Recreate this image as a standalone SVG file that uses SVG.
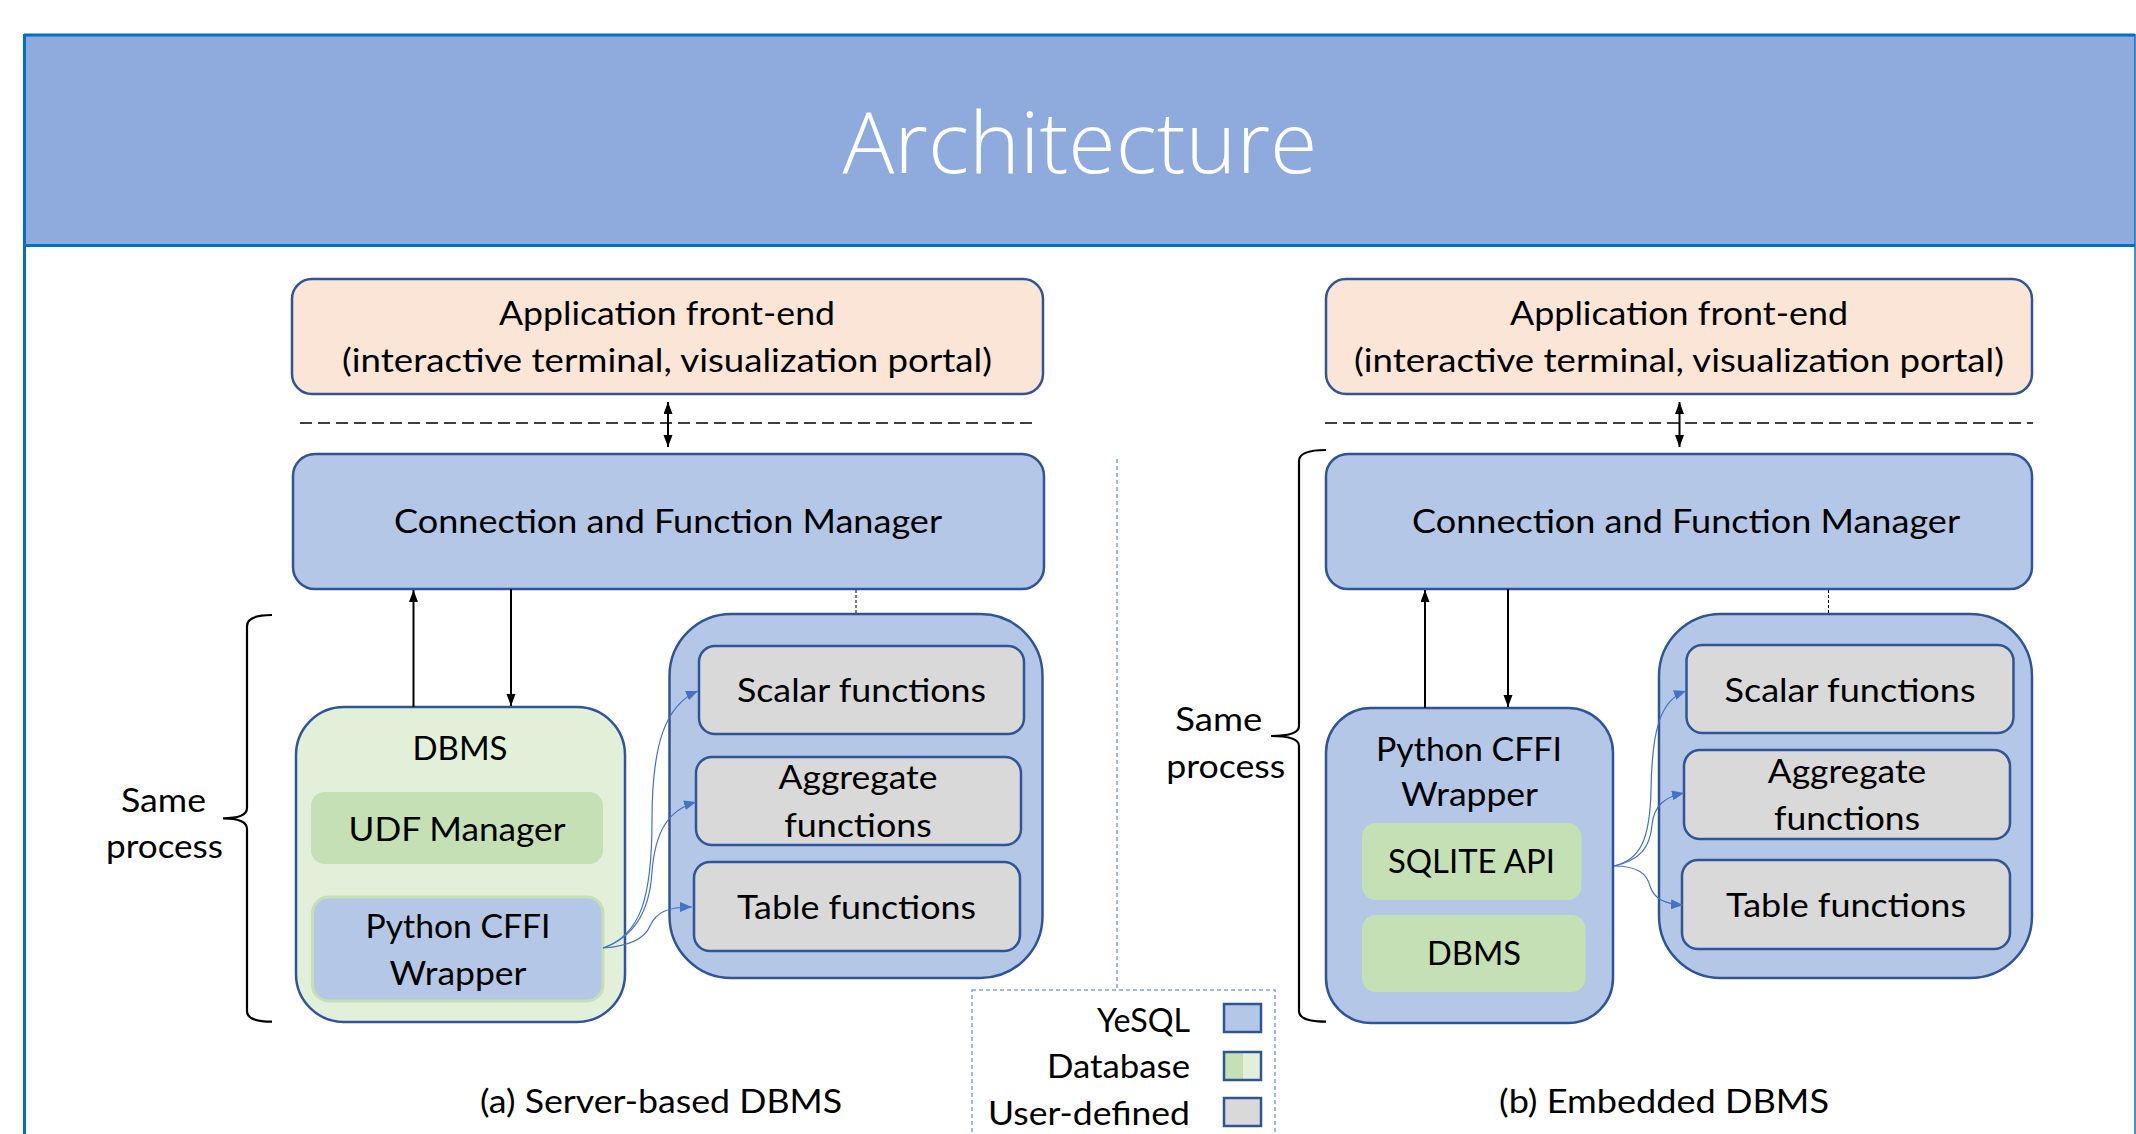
<svg xmlns="http://www.w3.org/2000/svg" width="2136" height="1134" viewBox="0 0 2136 1134">
<defs>
<style>
.t{font-family:Lato,"Liberation Sans",sans-serif;font-size:32.5px;fill:#000;text-anchor:middle}
.tr{font-family:Lato,"Liberation Sans",sans-serif;font-size:32.5px;fill:#000;text-anchor:end}
.title{font-family:"Open Sans","Liberation Sans",sans-serif;font-weight:300;font-size:84px;fill:#fff;text-anchor:middle}
.app{fill:#FBE5D6;stroke:#2F5597;stroke-width:2.5}
.yes{fill:#B4C7E7;stroke:#2F5597;stroke-width:2.5}
.db{fill:#E2F0D9;stroke:#2F5597;stroke-width:2.5}
.dbin{fill:#C5E0B4;stroke:none}
.ud{fill:#D9D9D9;stroke:#2F5597;stroke-width:2.5}
.pyw{fill:#B4C7E7;stroke:#C5E0B4;stroke-width:3}
.ar{fill:none;stroke:#000;stroke-width:2}
.dash{fill:none;stroke:#000;stroke-width:1.6;stroke-dasharray:12 6}
.dot{fill:none;stroke:#000;stroke-width:1;stroke-dasharray:3 2}
.cv{fill:none;stroke:#4472C4;stroke-width:1.2}
.brace{fill:none;stroke:#000;stroke-width:2.2}
.lg{fill:none;stroke:#7FA3DA;stroke-width:1.5;stroke-dasharray:4 3}
</style>
<marker id="ah" markerUnits="userSpaceOnUse" markerWidth="13" markerHeight="10" refX="12" refY="4.5" orient="auto-start-reverse">
<path d="M0,0 L12,4.5 L0,9 z" fill="#000"/>
</marker>
<marker id="bh" markerUnits="userSpaceOnUse" markerWidth="13" markerHeight="11" refX="12" refY="5" orient="auto">
<path d="M0,0 L12,5 L0,10 z" fill="#4472C4"/>
</marker>
</defs>
<rect x="0" y="0" width="2136" height="1134" fill="#fff"/>

<g id="frame">
<rect x="24" y="35" width="2111" height="210" fill="#8FAADC"/>
<line x1="24" y1="35" x2="2135" y2="35" stroke="#0070C0" stroke-width="3"/>
<line x1="24" y1="245.5" x2="2135" y2="245.5" stroke="#0070C0" stroke-width="3"/>
<line x1="24.5" y1="34" x2="24.5" y2="1134" stroke="#0070C0" stroke-width="3"/>
<line x1="2135" y1="34" x2="2135" y2="1134" stroke="#0070C0" stroke-width="1.5"/>
<text class="title" x="1080" y="173" textLength="475" lengthAdjust="spacingAndGlyphs">Architecture</text>
</g>

<!-- (a) Server-based -->
<g id="a-app">
<rect class="app" x="292" y="279" width="751" height="115" rx="20"/>
<text class="t" x="667" y="325" textLength="336" lengthAdjust="spacingAndGlyphs">Application front-end</text>
<text class="t" x="667" y="372" textLength="650" lengthAdjust="spacingAndGlyphs">(interactive terminal, visualization portal)</text>
</g>
<g id="a-conn">
<rect class="yes" x="293" y="454" width="751" height="135" rx="22"/>
<text class="t" x="668" y="533" textLength="548" lengthAdjust="spacingAndGlyphs">Connection and Function Manager</text>
</g>
<g id="a-dbms">
<rect class="db" x="296" y="707" width="329" height="315" rx="48"/>
<text class="t" x="460" y="760" textLength="95" lengthAdjust="spacingAndGlyphs">DBMS</text>
</g>
<g id="a-udf">
<rect class="dbin" x="311" y="792" width="292" height="72" rx="14"/>
<text class="t" x="457" y="841" textLength="217" lengthAdjust="spacingAndGlyphs">UDF Manager</text>
</g>
<g id="a-py">
<rect class="pyw" x="312.5" y="897" width="290.5" height="104" rx="16"/>
<text class="t" x="458" y="938" textLength="185" lengthAdjust="spacingAndGlyphs">Python CFFI</text>
<text class="t" x="458" y="985" textLength="137" lengthAdjust="spacingAndGlyphs">Wrapper</text>
</g>
<g id="a-funcs">
<rect class="yes" x="669.5" y="614" width="373" height="364" rx="62"/>
</g>
<g id="a-scalar">
<rect class="ud" x="699" y="646" width="325" height="88" rx="16"/>
<text class="t" x="861.5" y="702" textLength="249" lengthAdjust="spacingAndGlyphs">Scalar functions</text>
</g>
<g id="a-agg">
<rect class="ud" x="696" y="757" width="325" height="88" rx="16"/>
<text class="t" x="858" y="789" textLength="159" lengthAdjust="spacingAndGlyphs">Aggregate</text>
<text class="t" x="858" y="836.5" textLength="147.5" lengthAdjust="spacingAndGlyphs">functions</text>
</g>
<g id="a-table">
<rect class="ud" x="694" y="862" width="326" height="89" rx="16"/>
<text class="t" x="856.5" y="918.5" textLength="239" lengthAdjust="spacingAndGlyphs">Table functions</text>
</g>
<g id="a-labels">
<text class="t" x="163.5" y="812.3" textLength="85" lengthAdjust="spacingAndGlyphs">Same</text>
<text class="t" x="164.5" y="858" textLength="117" lengthAdjust="spacingAndGlyphs">process</text>
<text class="t" x="661" y="1112.6" textLength="362" lengthAdjust="spacingAndGlyphs">(a) Server-based DBMS</text>
</g>

<!-- (b) Embedded -->
<g id="b-app">
<rect class="app" x="1326" y="279" width="706" height="115" rx="20"/>
<text class="t" x="1679" y="325" textLength="338" lengthAdjust="spacingAndGlyphs">Application front-end</text>
<text class="t" x="1679" y="372" textLength="650" lengthAdjust="spacingAndGlyphs">(interactive terminal, visualization portal)</text>
</g>
<g id="b-conn">
<rect class="yes" x="1326" y="454" width="706" height="135" rx="22"/>
<text class="t" x="1686" y="533" textLength="548" lengthAdjust="spacingAndGlyphs">Connection and Function Manager</text>
</g>
<g id="b-py">
<rect class="yes" x="1326" y="708" width="287" height="315" rx="45"/>
<text class="t" x="1469" y="760.5" textLength="186" lengthAdjust="spacingAndGlyphs">Python CFFI</text>
<text class="t" x="1469.5" y="806" textLength="137" lengthAdjust="spacingAndGlyphs">Wrapper</text>
</g>
<g id="b-sqlite">
<rect class="dbin" x="1362" y="823" width="219.5" height="77" rx="14"/>
<text class="t" x="1471.5" y="872.5" textLength="167" lengthAdjust="spacingAndGlyphs">SQLITE API</text>
</g>
<g id="b-dbms">
<rect class="dbin" x="1362" y="915" width="223.5" height="77" rx="14"/>
<text class="t" x="1474" y="965" textLength="94" lengthAdjust="spacingAndGlyphs">DBMS</text>
</g>
<g id="b-funcs">
<rect class="yes" x="1659" y="614" width="373" height="364" rx="62"/>
</g>
<g id="b-scalar">
<rect class="ud" x="1686.5" y="645" width="327" height="88" rx="16"/>
<text class="t" x="1850" y="701.5" textLength="251" lengthAdjust="spacingAndGlyphs">Scalar functions</text>
</g>
<g id="b-agg">
<rect class="ud" x="1684" y="750" width="326" height="89" rx="16"/>
<text class="t" x="1847" y="783" textLength="158.5" lengthAdjust="spacingAndGlyphs">Aggregate</text>
<text class="t" x="1847" y="830" textLength="146" lengthAdjust="spacingAndGlyphs">functions</text>
</g>
<g id="b-table">
<rect class="ud" x="1682" y="860" width="328" height="89" rx="16"/>
<text class="t" x="1846" y="916.8" textLength="240" lengthAdjust="spacingAndGlyphs">Table functions</text>
</g>
<g id="b-labels">
<text class="t" x="1218.7" y="731" textLength="87" lengthAdjust="spacingAndGlyphs">Same</text>
<text class="t" x="1225.7" y="778" textLength="119" lengthAdjust="spacingAndGlyphs">process</text>
<text class="t" x="1664" y="1112.6" textLength="330" lengthAdjust="spacingAndGlyphs">(b) Embedded DBMS</text>
</g>

<g id="legend">
<rect class="lg" x="972" y="990" width="303" height="160"/>
<rect class="yes" x="1224" y="1004" width="37" height="28"/>
<rect x="1224" y="1052" width="19" height="28" fill="#C5E0B4"/>
<rect x="1243" y="1052" width="18" height="28" fill="#E2F0D9"/>
<rect x="1224" y="1052" width="37" height="28" fill="none" stroke="#2F5597" stroke-width="2.5"/>
<rect class="ud" x="1224" y="1098" width="37" height="28"/>
<text class="tr" x="1190" y="1031.7" textLength="93" lengthAdjust="spacingAndGlyphs">YeSQL</text>
<text class="tr" x="1190" y="1078.3" textLength="143" lengthAdjust="spacingAndGlyphs">Database</text>
<text class="tr" x="1190" y="1125" textLength="202" lengthAdjust="spacingAndGlyphs">User-defined</text>
</g>

<g id="connectors">
<line class="dash" x1="300" y1="423" x2="1032" y2="423"/>
<line class="dash" x1="1325" y1="423" x2="2033" y2="423"/>
<line class="ar" x1="668" y1="402" x2="668" y2="447" marker-start="url(#ah)" marker-end="url(#ah)"/>
<line class="ar" x1="1679.5" y1="402" x2="1679.5" y2="447" marker-start="url(#ah)" marker-end="url(#ah)"/>
<line class="ar" x1="413.5" y1="707" x2="413.5" y2="590" marker-end="url(#ah)"/>
<line class="ar" x1="511" y1="589" x2="511" y2="706" marker-end="url(#ah)"/>
<line class="ar" x1="1425" y1="708" x2="1425" y2="590" marker-end="url(#ah)"/>
<line class="ar" x1="1508" y1="589" x2="1508" y2="707" marker-end="url(#ah)"/>
<line class="dot" x1="856" y1="590" x2="856" y2="614"/>
<line class="dot" x1="1828.5" y1="590" x2="1828.5" y2="614"/>
<path class="brace" d="M272,615 Q247,615 247,626 L247,808 Q247,818.3 223,818.3 Q247,818.3 247,829 L247,1011 Q247,1021.7 272,1021.7"/>
<path class="brace" d="M1326,450 Q1299,450 1299,461 L1299,726 Q1299,736 1271,736 Q1299,736 1299,746 L1299,1011 Q1299,1021.7 1326,1021.7"/>
<line class="lg" x1="1117" y1="459" x2="1117" y2="990"/>
<path class="cv" d="M603,948 C640,935 652,900 652,820 C652,745 665,705 698,691" marker-end="url(#bh)"/>
<path class="cv" d="M603,948 C638,936 650,905 652,872 C655,832 668,810 696,802" marker-end="url(#bh)"/>
<path class="cv" d="M603,948 C630,946 645,938 650,926 C656,912 668,907 692,907" marker-end="url(#bh)"/>
<path class="cv" d="M1614,866 C1640,860 1650,840 1651,790 C1652,730 1660,700 1686,691" marker-end="url(#bh)"/>
<path class="cv" d="M1614,866 C1640,860 1650,848 1652,825 C1654,805 1665,797 1684,793" marker-end="url(#bh)"/>
<path class="cv" d="M1614,866 C1638,866 1647,874 1650,886 C1654,899 1665,904 1683,905" marker-end="url(#bh)"/>
</g>
</svg>
